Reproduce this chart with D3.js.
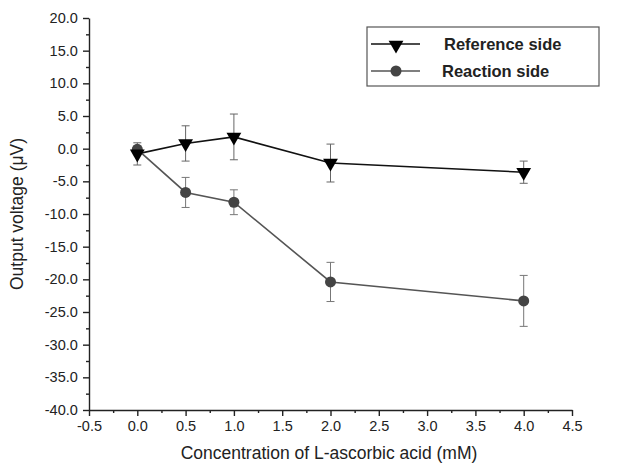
<!DOCTYPE html>
<html>
<head>
<meta charset="utf-8">
<script src="https://cdn.jsdelivr.net/npm/d3@7"></script>
<style>
  body { margin: 0; background: #fff; }
  text { font-family: "Liberation Sans", Arial, sans-serif; }
</style>
</head>
<body>
<div id="vis"></div>
<script>
const WIDTH = 636;
const HEIGHT = 465;

// datos
const conc = [0, 0.5, 1, 2, 4];
const refSide = [-0.8, 0.8, 1.8, -2.2, -3.6];
const refErr = [1.7, 2.7, 3.5, 2.9, 1.7];
const reacSide = [-0.1, -6.7, -8.2, -20.4, -23.3];
const reacErr = [0.5, 2.3, 1.9, 3.0, 3.9];

const xTicks = [-0.5, 0, 0.5, 1, 1.5, 2, 2.5, 3, 3.5, 4, 4.5];
const yTicks = [20, 15, 10, 5, 0, -5, -10, -15, -20, -25, -30, -35, -40];

const SVG = d3.select("#vis").append("svg")
  .attr("width", WIDTH).attr("height", HEIGHT);

const escalaX = d3.scaleLinear().domain([-0.5, 4.5]).range([89, 572]);
const escalaY = d3.scaleLinear().domain([-40, 20]).range([410, 18]);

// formato con guion normal
const fmt = d => d.toFixed(1);

const ejeX = d3.axisBottom(escalaX).tickValues(xTicks).tickFormat(fmt).tickSize(6).tickSizeOuter(0);
const ejeY = d3.axisLeft(escalaY).tickValues(yTicks).tickFormat(fmt).tickSize(6).tickSizeOuter(0);

// ticks menores
const minX = d3.range(-0.25, 4.5, 0.5);
const minY = d3.range(-37.5, 20, 5);

SVG.append("g").attr("transform", "translate(0,410)")
  .call(d3.axisBottom(escalaX).tickValues(minX).tickFormat("").tickSize(3).tickSizeOuter(0))
  .call(g => g.select(".domain").remove());
SVG.append("g").attr("transform", "translate(89,0)")
  .call(d3.axisLeft(escalaY).tickValues(minY).tickFormat("").tickSize(3).tickSizeOuter(0))
  .call(g => g.select(".domain").remove());

const gx = SVG.append("g").attr("transform", "translate(0,410)").call(ejeX);
const gy = SVG.append("g").attr("transform", "translate(89,0)").call(ejeY);

SVG.selectAll(".tick line, .domain").attr("stroke", "#222").attr("stroke-width", 1.4);
gx.selectAll("text").attr("font-size", 14.5).attr("fill", "#222").attr("dy", "0.85em");
gy.selectAll("text").attr("font-size", 14.5).attr("fill", "#222").attr("dx", "-0.15em");

// etiquetas de ejes
SVG.append("text")
  .attr("x", 329).attr("y", 459)
  .attr("text-anchor", "middle")
  .attr("font-size", 17.5).attr("fill", "#222")
  .text("Concentration of L-ascorbic acid (mM)");

SVG.append("text")
  .attr("transform", "translate(23,214) rotate(-90)")
  .attr("text-anchor", "middle")
  .attr("font-size", 17.5).attr("fill", "#222")
  .text("Output voltage (\u03bcV)");

const series = [
  { nombre: "Reference side", vals: refSide, err: refErr, color: "#111", err_color: "#666" },
  { nombre: "Reaction side", vals: reacSide, err: reacErr, color: "#555", err_color: "#777" }
];

const linea = d3.line().x((d, i) => escalaX(conc[i])).y(d => escalaY(d));
const triangulo = d3.symbol().type(d3.symbolTriangle).size(95);

series.forEach(s => {
  const G = SVG.append("g");
  // barras de error
  conc.forEach((c, i) => {
    const x = escalaX(c);
    const y1 = escalaY(s.vals[i] + s.err[i]);
    const y2 = escalaY(s.vals[i] - s.err[i]);
    G.append("line").attr("x1", x).attr("x2", x).attr("y1", y1).attr("y2", y2)
      .attr("stroke", s.err_color).attr("stroke-width", 1);
    [y1, y2].forEach(y => {
      G.append("line").attr("x1", x - 4).attr("x2", x + 4).attr("y1", y).attr("y2", y)
        .attr("stroke", s.err_color).attr("stroke-width", 1);
    });
  });
  G.append("path").attr("d", linea(s.vals))
    .attr("fill", "none").attr("stroke", s.color).attr("stroke-width", 1.6);
});

// marcadores (circulos debajo de triangulos en x=0)
SVG.append("g").selectAll("circle")
  .data(reacSide)
  .join("circle")
  .attr("cx", (d, i) => escalaX(conc[i]))
  .attr("cy", d => escalaY(d))
  .attr("r", 5.5)
  .attr("fill", "#444");

SVG.append("g").selectAll("path")
  .data(refSide)
  .join("path")
  .attr("d", triangulo)
  .attr("transform", (d, i) => `translate(${escalaX(conc[i])},${escalaY(d)}) rotate(180)`)
  .attr("fill", "#000");

// leyenda
const L = SVG.append("g");
L.append("rect").attr("x", 367).attr("y", 27).attr("width", 232).attr("height", 59)
  .attr("fill", "none").attr("stroke", "#555").attr("stroke-width", 1.2);
L.append("line").attr("x1", 371).attr("x2", 420).attr("y1", 44).attr("y2", 44)
  .attr("stroke", "#111").attr("stroke-width", 1.6);
L.append("path").attr("d", triangulo).attr("transform", "translate(396,45) rotate(180)").attr("fill", "#000");
L.append("line").attr("x1", 371).attr("x2", 420).attr("y1", 71).attr("y2", 71)
  .attr("stroke", "#555").attr("stroke-width", 1.6);
L.append("circle").attr("cx", 396).attr("cy", 71).attr("r", 5.5).attr("fill", "#444");
L.append("text").attr("x", 444).attr("y", 50).attr("font-size", 16.5).attr("font-weight", "bold").attr("fill", "#222")
  .text("Reference side");
L.append("text").attr("x", 442).attr("y", 77).attr("font-size", 16.5).attr("font-weight", "bold").attr("fill", "#222")
  .text("Reaction side");
</script>
</body>
</html>
